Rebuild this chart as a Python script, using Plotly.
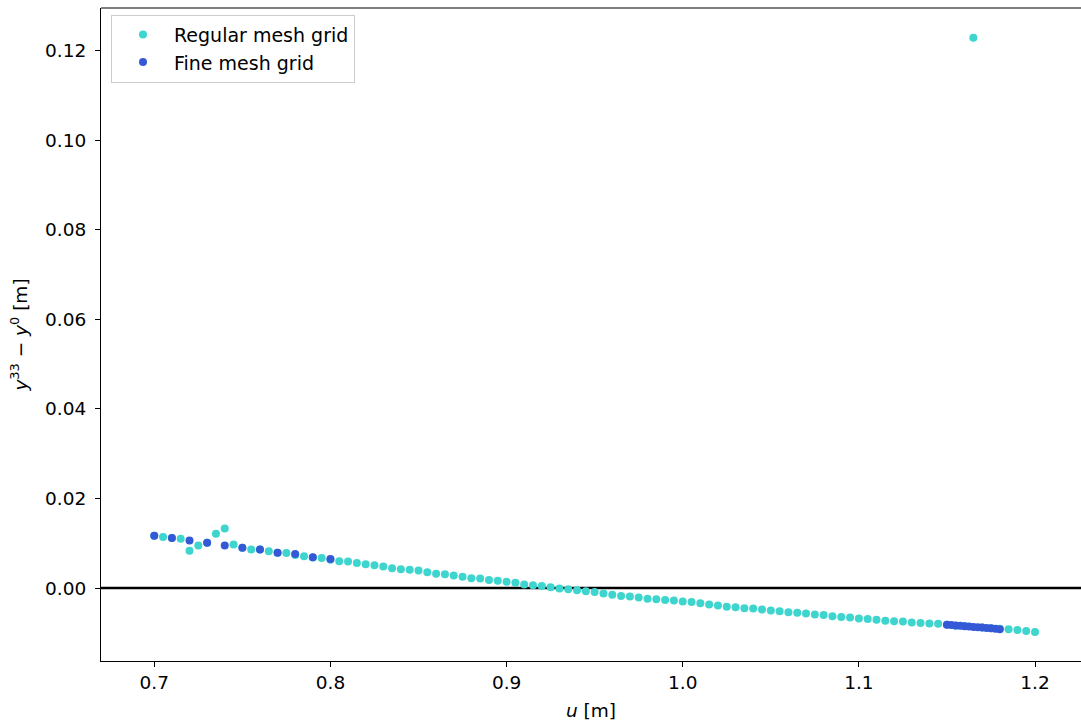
import plotly.graph_objects as go

# Regular mesh grid: u positions [m] and vertical offset y33 - y0 [m]
regular_u = [
    0.700, 0.705, 0.710, 0.715, 0.720, 0.725, 0.730, 0.735, 0.740, 0.745,
    0.750, 0.755, 0.760, 0.765, 0.770, 0.775, 0.780, 0.785, 0.790, 0.795,
    0.800, 0.805, 0.810, 0.815, 0.820, 0.825, 0.830, 0.835, 0.840, 0.845,
    0.850, 0.855, 0.860, 0.865, 0.870, 0.875, 0.880, 0.885, 0.890, 0.895,
    0.900, 0.905, 0.910, 0.915, 0.920, 0.925, 0.930, 0.935, 0.940, 0.945,
    0.950, 0.955, 0.960, 0.965, 0.970, 0.975, 0.980, 0.985, 0.990, 0.995,
    1.000, 1.005, 1.010, 1.015, 1.020, 1.025, 1.030, 1.035, 1.040, 1.045,
    1.050, 1.055, 1.060, 1.065, 1.070, 1.075, 1.080, 1.085, 1.090, 1.095,
    1.100, 1.105, 1.110, 1.115, 1.120, 1.125, 1.130, 1.135, 1.140, 1.145,
    1.150, 1.155, 1.160, 1.165, 1.170, 1.175, 1.180, 1.185, 1.190, 1.195,
    1.200,
]
regular_dy = [
    0.0117, 0.0114, 0.0112, 0.0110, 0.0083, 0.0095, 0.0101, 0.0121, 0.0133, 0.0097,
    0.0090, 0.0086, 0.0086, 0.0082, 0.0079, 0.0078, 0.0074, 0.0071, 0.0068, 0.0067,
    0.0063, 0.0060, 0.0059, 0.0056, 0.0053, 0.0051, 0.0048, 0.0044, 0.0042, 0.0041,
    0.0039, 0.0035, 0.0032, 0.0031, 0.0028, 0.0025, 0.0022, 0.0021, 0.0018, 0.0016,
    0.0014, 0.0012, 0.0008, 0.0006, 0.00045, 0.00016, -0.0001, -0.0003, -0.0005, -0.0007,
    -0.0009, -0.0012, -0.0015, -0.0018, -0.0019, -0.0021, -0.0024, -0.0025, -0.0027, -0.0028,
    -0.0030, -0.0031, -0.0034, -0.0037, -0.0039, -0.0042, -0.0043, -0.0045, -0.0046, -0.0048,
    -0.0050, -0.0052, -0.0054, -0.0055, -0.0057, -0.0059, -0.0060, -0.0063, -0.0065, -0.0066,
    -0.0068, -0.0069, -0.0071, -0.0073, -0.0074, -0.0075, -0.0077, -0.0078, -0.0079, -0.0080,
    -0.0082, -0.0084, -0.0085, 0.1229, -0.0088, -0.0090, -0.0091, -0.0092, -0.0094, -0.0096,
    -0.0098,
]

# Fine mesh grid: two refined windows
fine_u = [
    0.70, 0.71, 0.72, 0.73, 0.74, 0.75, 0.76, 0.77, 0.78, 0.79, 0.80,
    1.1500, 1.1525, 1.1550, 1.1575, 1.1600, 1.1625, 1.1650,
    1.1675, 1.1700, 1.1725, 1.1750, 1.1775, 1.1800,
]
fine_dy = [
    0.0117, 0.0112, 0.0106, 0.0101, 0.0095, 0.0090, 0.0086, 0.0079, 0.0076, 0.0069, 0.0065,
    -0.0082, -0.00828, -0.00836, -0.00844, -0.00852, -0.0086, -0.00868,
    -0.00876, -0.00884, -0.00892, -0.0090, -0.00908, -0.0092,
]

x_ticks = [0.7, 0.8, 0.9, 1.0, 1.1, 1.2]
y_ticks = [0.00, 0.02, 0.04, 0.06, 0.08, 0.10, 0.12]

REGULAR_COLOR = "#3dd5cd"
FINE_COLOR = "#3559d6"
FONT = "DejaVu Sans"

fig = go.Figure()
fig.add_trace(go.Scatter(
    x=regular_u, y=regular_dy, mode="markers", name="Regular mesh grid",
    marker=dict(size=8, color=REGULAR_COLOR, line=dict(width=0)),
))
fig.add_trace(go.Scatter(
    x=fine_u, y=fine_dy, mode="markers", name="Fine mesh grid",
    marker=dict(size=8, color=FINE_COLOR, line=dict(width=0)),
))

# zero reference line across the full axes width
fig.add_shape(type="line", xref="paper", yref="y", x0=0, x1=1, y0=0, y1=0,
              line=dict(color="black", width=2.5), layer="below")
# top frame line
fig.add_shape(type="line", xref="paper", yref="paper", x0=0, x1=1, y0=1, y1=1,
              line=dict(color="black", width=1.2))

axis_common = dict(
    showline=True, linecolor="black", linewidth=1.2, mirror=False,
    ticks="outside", ticklen=5, tickwidth=1.2, tickcolor="black",
    showgrid=False, zeroline=False,
    tickfont=dict(family=FONT, size=18.5, color="black"),
)

fig.update_layout(
    width=1081, height=721,
    margin=dict(l=101, r=0, t=8, b=60),
    paper_bgcolor="white", plot_bgcolor="white",
    font=dict(family=FONT, size=18.5, color="black"),
    xaxis=dict(
        range=[0.66975, 1.2261], tickvals=x_ticks, tickformat=".1f",
        title=dict(text="<i>u</i> [m]", standoff=11,
                   font=dict(family=FONT, size=18.5, color="black")),
        **axis_common,
    ),
    yaxis=dict(
        range=[-0.0163, 0.12955], tickvals=y_ticks, tickformat=".2f",
        ticklabelstandoff=5,
        title=dict(text="<i>y</i><sup>33</sup> − <i>y</i><sup>0</sup> [m]", standoff=12,
                   font=dict(family=FONT, size=18.5, color="black")),
        **axis_common,
    ),
    legend=dict(
        x=0.0102, y=0.99, xanchor="left", yanchor="top",
        bgcolor="rgba(255,255,255,0.8)", bordercolor="#cccccc", borderwidth=1,
        font=dict(family=FONT, size=19, color="black"),
        itemwidth=52, tracegroupgap=0,
    ),
    showlegend=True,
)

fig.write_html("out.html")
